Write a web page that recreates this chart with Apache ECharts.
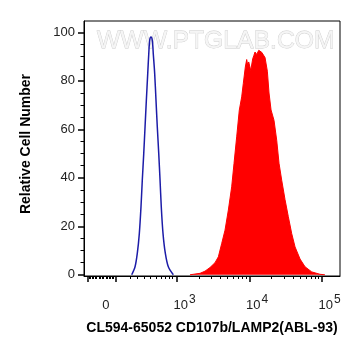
<html>

<head>
    <script src="https://cdn.jsdelivr.net/npm/echarts@6/dist/echarts.min.js"></script>
    <style>
        body {
            margin: 0;
            background: #fff;
        }

        #main {
            width: 361px;
            height: 356px;
        }
    </style>
</head>

<body>
    <div id="main"></div>
    <script>
        // x values are display positions on the biexponential axis (10^3 -> 3, 10^4 -> 4 ...)
        var blueX = [2.375, 2.421, 2.452, 2.480, 2.503, 2.521, 2.541, 2.559, 2.577, 2.596, 2.610, 2.623, 2.641,
            2.659, 2.673, 2.692, 2.710, 2.728, 2.748, 2.766, 2.783, 2.807, 2.839, 2.880, 2.949];
        var blueY = [0, 3.3, 8.8, 17, 28, 39, 50, 61, 72, 83, 91, 96.7, 98.1,
            96.7, 91, 83, 72, 61, 50, 39, 28, 17, 8.8, 3.3, 0];

        var redX = [3.179, 3.317, 3.386, 3.455, 3.524, 3.570, 3.617, 3.662, 3.708, 3.754, 3.786, 3.823, 3.859,
            3.892, 3.914, 3.942, 3.961, 3.975, 3.989, 4.017, 4.044, 4.060, 4.076, 4.099, 4.127, 4.154, 4.168,
            4.182, 4.214, 4.246, 4.269, 4.297, 4.338, 4.375, 4.407, 4.444, 4.490, 4.535, 4.582, 4.628,
            4.697, 4.766, 4.858, 4.972, 5.04];
        var redY = [0, 0.6, 1.5, 3.0, 5, 7.4, 13, 18.4, 26.7, 36.3, 45.9, 56.9, 67.9,
            73.4, 78.9, 85.7, 88.8, 86.5, 87.8, 84.3, 89.1, 90.5, 91.9, 90.9, 92.6, 93.3, 91.8,
            91.2, 89.6, 84, 75, 68, 63.7, 55.5, 46, 39, 31, 24, 17, 11.5,
            6.5, 3.3, 1.2, 0.2, 0];

        var xMajorTicks = [1.768, 2.154, 3, 4, 5];
        var xMinorTicks = [1.786, 1.807, 1.828, 1.848, 1.869, 1.890, 1.924, 1.945, 1.966, 1.986,
            2.021, 2.041, 2.062, 2.083, 2.103, 2.124,
            2.352, 2.448, 2.545, 2.628, 2.710, 2.779, 2.834, 2.890, 2.938,
            3.301, 3.477, 3.602, 3.699, 3.778, 3.845, 3.903, 3.954,
            4.301, 4.477, 4.602, 4.699, 4.778, 4.845, 4.903, 4.954];
        var xLabelPos = [2.02, 3, 4, 5];
        var xLabelText = ['0', '3', '4', '5'];

        var yMajorTicks = [0, 20, 40, 60, 80, 100];
        var yMinorTicks = [5, 10, 15, 25, 30, 35, 45, 50, 55, 65, 70, 75, 85, 90, 95];

        var xMin = 1.717, xMax = 5.248;
        var yMin = -0.5, yMax = 104.7;

        function pairs(xs, ys) {
            return xs.map(function (x, i) { return [x, ys[i]]; });
        }

        var myChart = echarts.init(document.getElementById('main'));
        var option = {
            backgroundColor: '#fff',
            animation: false,
            grid: {
                left: 84,
                right: 21,
                top: 21,
                bottom: 80,
                show: true,
                borderColor: '#000',
                borderWidth: 1,
                backgroundColor: 'transparent'
            },
            graphic: [
                {
                    type: 'text',
                    x: 97,
                    y: 21,
                    scaleX: 1.03,
                    z: 0,
                    silent: true,
                    style: {
                        text: 'WWW.PTGLAB.COM',
                        font: '24px "Liberation Sans", Arial, sans-serif',
                        fill: '#f5f5f5',
                        stroke: '#cccccc',
                        lineWidth: 0.8
                    }
                },
                {
                    type: 'text',
                    x: 26.5,
                    y: 144,
                    rotation: Math.PI / 2,
                    silent: true,
                    style: {
                        text: 'Relative Cell Number',
                        font: 'bold 14px "Liberation Sans", Arial, sans-serif',
                        fill: '#000',
                        align: 'center',
                        verticalAlign: 'middle'
                    }
                },
                {
                    type: 'text',
                    x: 212,
                    y: 328.5,
                    silent: true,
                    style: {
                        text: 'CL594-65052 CD107b/LAMP2(ABL-93)',
                        font: 'bold 14px "Liberation Sans", Arial, sans-serif',
                        fill: '#000',
                        align: 'center',
                        verticalAlign: 'middle'
                    }
                }
            ],
            xAxis: [
                {
                    type: 'value',
                    position: 'bottom',
                    min: xMin,
                    max: xMax,
                    splitLine: { show: false },
                    axisLine: { show: true, onZero: false, lineStyle: { color: '#000', width: 1 } },
                    axisTick: {
                        show: true,
                        customValues: xMajorTicks,
                        length: 6,
                        lineStyle: { color: '#000', width: 1.5 }
                    },
                    axisLabel: {
                        show: true,
                        customValues: xLabelPos,
                        margin: 12,
                        color: '#222',
                        formatter: function (v) {
                            var i = xLabelPos.indexOf(v);
                            if (i === 0) return '{z|0}';
                            return '{b|10}{s|' + xLabelText[i] + '}';
                        },
                        rich: {
                            z: { fontSize: 13, fontFamily: 'Liberation Sans', color: '#222', padding: [6, 0, 0, 0] },
                            b: { fontSize: 13, fontFamily: 'Liberation Sans', color: '#222', padding: [6, 0, 0, 15] },
                            s: { fontSize: 12, fontFamily: 'Liberation Sans', color: '#222', padding: [0, 0, 6, 1] }
                        }
                    }
                },
                {
                    type: 'value',
                    position: 'bottom',
                    min: xMin,
                    max: xMax,
                    gridIndex: 0,
                    splitLine: { show: false },
                    axisLine: { show: false, onZero: false },
                    axisLabel: { show: false },
                    axisTick: {
                        show: true,
                        customValues: xMinorTicks,
                        length: 3,
                        lineStyle: { color: '#000', width: 1 }
                    }
                }
            ],
            yAxis: [
                {
                    type: 'value',
                    position: 'left',
                    min: yMin,
                    max: yMax,
                    splitLine: { show: false },
                    axisLine: { show: true, onZero: false, lineStyle: { color: '#000', width: 1 } },
                    axisTick: {
                        show: true,
                        customValues: yMajorTicks,
                        length: 6,
                        lineStyle: { color: '#000', width: 1.5 }
                    },
                    axisLabel: {
                        show: true,
                        customValues: yMajorTicks,
                        margin: 9,
                        color: '#222',
                        fontSize: 13,
                        fontFamily: 'Liberation Sans'
                    }
                },
                {
                    type: 'value',
                    position: 'left',
                    gridIndex: 0,
                    min: yMin,
                    max: yMax,
                    splitLine: { show: false },
                    axisLine: { show: false, onZero: false },
                    axisLabel: { show: false },
                    axisTick: {
                        show: true,
                        customValues: yMinorTicks,
                        length: 3.5,
                        lineStyle: { color: '#000', width: 1 }
                    }
                }
            ],
            series: [
                {
                    name: 'stained',
                    type: 'line',
                    data: pairs(redX, redY),
                    showSymbol: false,
                    smooth: false,
                    lineStyle: { color: '#ff0000', width: 1 },
                    areaStyle: { color: '#ff0000', opacity: 1 },
                    z: 3
                },
                {
                    name: 'control',
                    type: 'line',
                    data: pairs(blueX, blueY),
                    showSymbol: false,
                    smooth: 0.3,
                    lineStyle: { color: '#1c1ca8', width: 1.5 },
                    z: 4
                }
            ]
        };

        myChart.setOption(option);
        window.onresize = myChart.resize;
    </script>
</body>

</html>
